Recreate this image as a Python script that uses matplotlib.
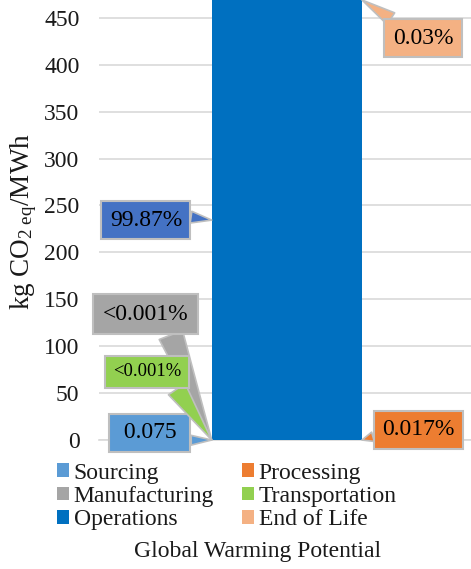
import matplotlib
matplotlib.use("Agg")
import matplotlib.pyplot as plt
from matplotlib.patches import Patch

# -----------------------------
# Data
# -----------------------------
category = "Global Warming Potential"
stages = ["Sourcing", "Processing", "Manufacturing", "Transportation", "Operations", "End of Life"]
values = [0.075, 0.08, 0.001, 0.001, 470.0, 0.14]
colors = ["#5B9BD5", "#ED7D31", "#A5A5A5", "#92D050", "#0070C0", "#F4B183"]
callout_labels = [" 0.075 ", "0.017%", "<0.001%", "<0.001%", "99.87%", "0.03%"]
callout_colors = ["#5B9BD5", "#ED7D31", "#A5A5A5", "#92D050", "#4472C4", "#F4B183"]
y_ticks = [0, 50, 100, 150, 200, 250, 300, 350, 400, 450]

plt.rcParams["font.family"] = ["Liberation Serif", "DejaVu Serif"]
plt.rcParams["mathtext.fontset"] = "custom"
plt.rcParams["mathtext.rm"] = "Liberation Serif"
plt.rcParams["mathtext.it"] = "Liberation Serif:italic"

fig = plt.figure(figsize=(4.71, 5.69), dpi=100)
ax = fig.add_axes([0.2102, 0.2267, 0.7898, 0.7733])

bar_w = 0.404
bottom = 0
for v, c in zip(values, colors):
    ax.bar(0.005, v, bar_w, bottom=bottom, color=c, zorder=3)
    bottom += v

ax.set_xlim(-0.5, 0.5)
ax.set_ylim(0, 469)
ax.set_yticks(y_ticks)
ax.tick_params(axis="y", labelsize=17, labelcolor="#1a1a1a", length=0, pad=14)
ax.set_xticks([])
ax.grid(axis="y", color="#D9D9D9", lw=1.2, zorder=0)
for s in ["top", "right", "left"]:
    ax.spines[s].set_visible(False)
ax.spines["bottom"].set_color("#D9D9D9")
ax.spines["bottom"].set_linewidth(1.2)

ax.set_ylabel(r"kg CO$_{2\ \mathrm{eq}}$/MWh", fontsize=19.5, color="#1a1a1a")
ax.yaxis.set_label_coords(-0.161, 0.497)

# -----------------------------
# Callouts
# -----------------------------
left = 0.005 - bar_w / 2
right = 0.005 + bar_w / 2
callouts = [
    # (index, text pos, target, fontsize, box pad, wedge width, relpos)
    (0, (-0.363, 7.5), (left, 0), 17, 0.35, 0.7, (1.0, 0.15)),
    (1, (0.358, 10.7), (right, 0), 17, 0.35, 0.7, (0.0, 0.3)),
    (2, (-0.375, 134), (left, 0), 17, 0.4, 1.8, (0.75, 0.0)),
    (3, (-0.371, 72.5), (left, 0), 13.4, 0.42, 1.45, (0.85, 0.0)),
    (4, (-0.374, 234.4), (left, 234.4), 17, 0.35, 0.85, (1.0, 0.7)),
    (5, (0.371, 428.3), (right, 469), 17, 0.35, 1.0, (0.2, 1.0)),
]
for i, pos, tgt, fs, pad, tw, rp in callouts:
    ax.annotate(
        callout_labels[i], xy=tgt, xytext=pos,
        ha="center", va="center", fontsize=fs, color="black",
        annotation_clip=False, zorder=5,
        bbox=dict(boxstyle=f"square,pad={pad}", fc=callout_colors[i], ec="#BFBFBF", lw=1.5),
        arrowprops=dict(arrowstyle=f"wedge,tail_width={tw},shrink_factor=0.5",
                        mutation_scale=10, relpos=rp, shrinkA=0, shrinkB=0,
                        fc=callout_colors[i], ec="#BFBFBF", lw=1.2),
    )

# -----------------------------
# Legend and category label
# -----------------------------
order = [0, 2, 4, 1, 3, 5]
handles = [Patch(facecolor=colors[i], label=stages[i]) for i in order]
fig.legend(handles=handles, loc="upper left", bbox_to_anchor=(0.121, 0.187),
           ncol=2, frameon=False, fontsize=17, handlelength=0.5, handleheight=0.5,
           handletextpad=0.2, labelspacing=0.1, columnspacing=1.2, borderpad=0,
           borderaxespad=0, labelcolor="#1a1a1a")

fig.text(0.546, 0.030, category, ha="center", va="center", fontsize=17, color="#1a1a1a")

plt.savefig("out.png", dpi=100)
plt.close()
